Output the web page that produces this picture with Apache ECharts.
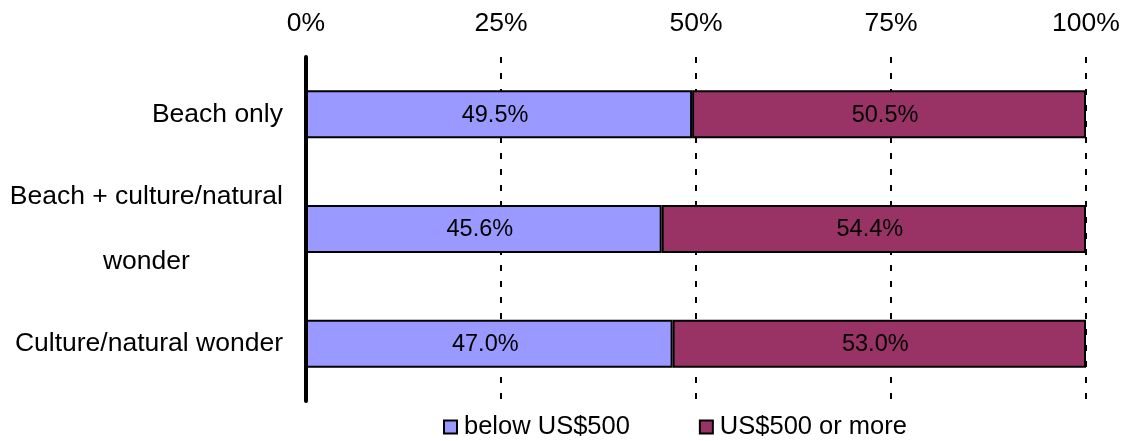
<!DOCTYPE html>
<html>
<head>
<meta charset="utf-8">
<script src="https://cdn.jsdelivr.net/npm/echarts@6/dist/echarts.min.js"></script>
<style>
  html, body { margin: 0; padding: 0; background: #fff; }
  #chart { width: 1130px; height: 441px; }
</style>
</head>
<body>
<div id="chart"></div>
<script>
// Share of trips by spending level, per trip type (percent of each row)
const categories = ['Beach only', 'Beach + culture/natural wonder', 'Culture/natural wonder'];
const seriesNames = ['below US$500', 'US$500 or more'];
const belowValues = [49.5, 45.6, 47.0];
const aboveValues = [50.5, 54.4, 53.0];
const tickValues = [0, 25, 50, 75, 100];

const FONT = '"Liberation Sans", Arial, sans-serif';

// Greedy word wrap so long category names split into centred lines
function wrap(text, maxChars) {
  const words = text.split(' ');
  const lines = [];
  let cur = '';
  words.forEach(w => {
    const next = cur ? cur + ' ' + w : w;
    if (next.length > maxChars && cur) { lines.push(cur); cur = w; }
    else cur = next;
  });
  if (cur) lines.push(cur);
  return lines;
}

const chart = echarts.init(document.getElementById('chart'), null, { renderer: 'canvas' });

const barStyle = (color) => ({ color: color, borderColor: '#000', borderWidth: 2 });
const valueLabel = {
  show: true,
  position: 'inside',
  offset: [-4, 1],
  color: '#000',
  fontSize: 23.5,
  fontFamily: FONT,
  formatter: p => p.value.toFixed(1) + '%'
};

chart.setOption({
  animation: false,
  backgroundColor: '#fff',
  textStyle: { fontFamily: FONT },
  grid: { left: 306, right: 44, top: 57, bottom: 40, containLabel: false },
  legend: {
    data: seriesNames,
    left: 443,
    top: 414,
    padding: 0,
    icon: 'rect',
    itemWidth: 13,
    itemHeight: 13,
    itemGap: 69,
    selectedMode: false,
    textStyle: { fontSize: 25.5, color: '#000', fontFamily: FONT, padding: [0, 0, 0, 2] }
  },
  xAxis: {
    type: 'value',
    position: 'top',
    min: tickValues[0],
    max: tickValues[tickValues.length - 1],
    interval: tickValues[1] - tickValues[0],
    axisLine: { show: false },
    axisTick: { show: false },
    axisLabel: {
      margin: 20,
      fontSize: 26.5,
      color: '#000',
      fontFamily: FONT,
      formatter: '{value}%'
    },
    splitLine: {
      show: true,
      lineStyle: { color: '#000', width: 2, type: [6, 10] }
    }
  },
  yAxis: {
    type: 'category',
    inverse: true,
    data: categories,
    axisLine: { show: true, lineStyle: { color: '#000', width: 4 } },
    axisTick: { show: false },
    splitLine: { show: false },
    axisLabel: {
      margin: 23,
      align: 'right',
      formatter: v => wrap(v, 23).map(l => '{c|' + l + '}').join('\n'),
      rich: {
        c: { align: 'center', fontSize: 26.5, lineHeight: 65, color: '#000', fontFamily: FONT }
      }
    }
  },
  series: [
    {
      name: seriesNames[0],
      type: 'bar',
      stack: 'share',
      barWidth: 48,
      data: belowValues,
      itemStyle: barStyle('#9999FF'),
      label: valueLabel
    },
    {
      name: seriesNames[1],
      type: 'bar',
      stack: 'share',
      barWidth: 48,
      data: aboveValues,
      itemStyle: barStyle('#993366'),
      label: valueLabel
    }
  ]
});
</script>
</body>
</html>
